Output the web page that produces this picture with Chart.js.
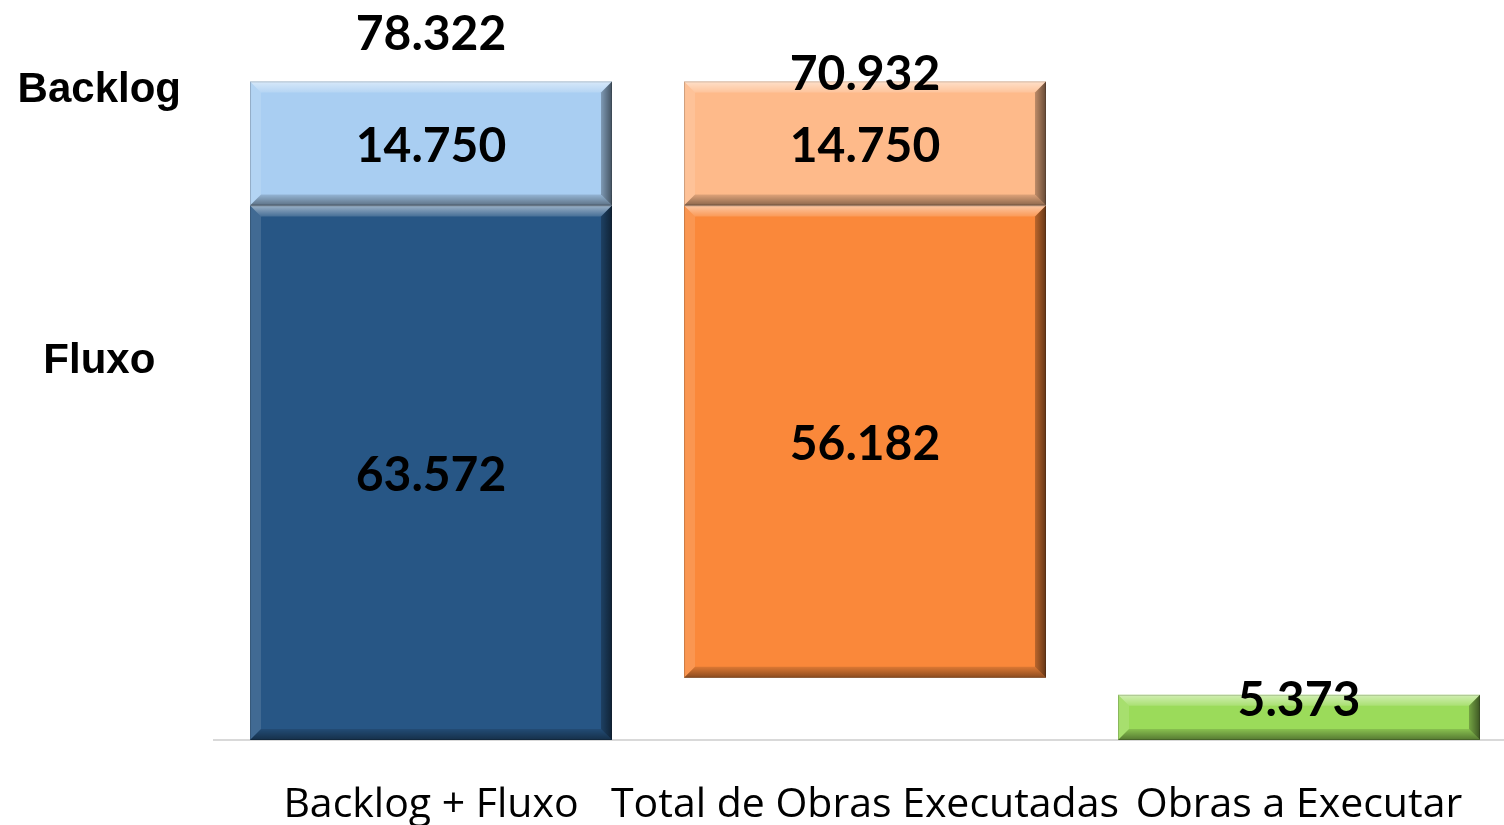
<!DOCTYPE html>
<html lang="pt">
<head>
<meta charset="utf-8">
<title>Backlog + Fluxo</title>
<script src="https://cdn.jsdelivr.net/npm/chart.js@4/dist/chart.umd.min.js"></script>
<style>
  html, body { margin: 0; padding: 0; background: #fff; overflow: hidden; }
  #wrap { width: 1516px; height: 825px; }
</style>
</head>
<body>
<div id="wrap"><canvas id="obrasChart" width="1516" height="825"></canvas></div>
<script>
// Dados
const categorias = ["Backlog + Fluxo", "Total de Obras Executadas", "Obras a Executar"]
const fluxo = [63.572, 56.182, null]
const backlog = [14.750, 14.750, null]
const aExecutar = [null, null, 5.373]
const totais = [78.322, 70.932, null]
// base invisível da barra flutuante (total entrada - total executado)
const base = [0, totais[0] - totais[1], 0]

// rótulos do eixo da esquerda, na altura de cada faixa
const rotulosEsquerda = ["Backlog", "Fluxo"]
const posRotulosEsquerda = [77.25, 45.05]

const corFluxo = ["#275685", "#fa883a", null]
const corBacklog = ["#a9cef2", "#feba8a", null]
const corExecutar = "#9bdb5a"

function fmt(v) {
  return v.toFixed(3)
}

/**
 * Desenha o efeito de bisel nas barras e os valores
 */
const bevelLabels = {
  id: "bevelLabels",
  afterDatasetsDraw(chart) {
    const ctx = chart.ctx
    const b = 11

    chart.data.datasets.forEach((ds, di) => {
      if (ds.skipLabel) return
      const meta = chart.getDatasetMeta(di)
      meta.data.forEach((el, i) => {
        const v = ds.data[i]
        if (v === null || v === 0) return
        const p = el.getProps(["x", "y", "base", "width"], true)
        const l = p.x - p.width / 2
        const r = p.x + p.width / 2
        const t = Math.min(p.y, p.base)
        const bt = Math.max(p.y, p.base)
        const bb = Math.min(b, (bt - t) / 2)

        ctx.save()
        // topo claro
        let g = ctx.createLinearGradient(0, t, 0, t + bb)
        g.addColorStop(0, "rgba(255,255,255,0.55)")
        g.addColorStop(1, "rgba(255,255,255,0.15)")
        ctx.fillStyle = g
        ctx.beginPath()
        ctx.moveTo(l, t); ctx.lineTo(r, t); ctx.lineTo(r - bb, t + bb); ctx.lineTo(l + bb, t + bb)
        ctx.closePath(); ctx.fill()
        // esquerda clara
        ctx.fillStyle = "rgba(255,255,255,0.12)"
        ctx.beginPath()
        ctx.moveTo(l, t); ctx.lineTo(l + bb, t + bb); ctx.lineTo(l + bb, bt - bb); ctx.lineTo(l, bt)
        ctx.closePath(); ctx.fill()
        // direita escura
        g = ctx.createLinearGradient(r - bb, 0, r, 0)
        g.addColorStop(0, "rgba(0,0,0,0.25)")
        g.addColorStop(1, "rgba(0,0,0,0.6)")
        ctx.fillStyle = g
        ctx.beginPath()
        ctx.moveTo(r, t); ctx.lineTo(r, bt); ctx.lineTo(r - bb, bt - bb); ctx.lineTo(r - bb, t + bb)
        ctx.closePath(); ctx.fill()
        // base escura
        g = ctx.createLinearGradient(0, bt - bb, 0, bt)
        g.addColorStop(0, "rgba(0,0,0,0.12)")
        g.addColorStop(1, "rgba(0,0,0,0.45)")
        ctx.fillStyle = g
        ctx.beginPath()
        ctx.moveTo(l, bt); ctx.lineTo(r, bt); ctx.lineTo(r - bb, bt - bb); ctx.lineTo(l + bb, bt - bb)
        ctx.closePath(); ctx.fill()
        // contorno fino
        ctx.strokeStyle = "rgba(0,0,0,0.18)"
        ctx.lineWidth = 1
        ctx.strokeRect(l + 0.5, t + 0.5, r - l - 1, bt - t - 1)
        ctx.restore()
      })
    })

    // valores
    const dy = 3
    ctx.save()
    ctx.font = "bold 48px Lato"
    ctx.fillStyle = "#000"
    ctx.textAlign = "center"
    ctx.textBaseline = "middle"
    chart.data.datasets.forEach((ds, di) => {
      if (ds.skipLabel) return
      const meta = chart.getDatasetMeta(di)
      meta.data.forEach((el, i) => {
        const v = ds.data[i]
        if (v === null) return
        const p = el.getProps(["x", "y", "base"], true)
        let y = (p.y + p.base) / 2
        if (p.base - p.y < 60) y = p.y + 3
        ctx.fillText(fmt(v), p.x, y + dy)
      })
    })
    // totais acima das barras
    const yScale = chart.scales.y
    const offsets = [-50, -10]
    const meta0 = chart.getDatasetMeta(0)
    totais.forEach((v, i) => {
      if (v === null) return
      const x = meta0.data[i].x
      ctx.fillText(fmt(v), x, yScale.getPixelForValue(totais[0]) + offsets[i] + dy)
    })
    ctx.restore()
  },
}

new Chart(document.getElementById("obrasChart"), {
  type: "bar",
  data: {
    labels: categorias,
    datasets: [
      { label: "base", data: base, backgroundColor: "rgba(0,0,0,0)", skipLabel: true },
      { label: "Fluxo", data: fluxo, backgroundColor: corFluxo },
      { label: "Backlog", data: backlog, backgroundColor: corBacklog },
      { label: "Obras a Executar", data: aExecutar, backgroundColor: corExecutar },
    ],
  },
  options: {
    responsive: false,
    animation: false,
    layout: { padding: 0 },
    datasets: {
      bar: {
        borderWidth: 0,
        categoryPercentage: 1,
        barPercentage: 0.834,
        grouped: false,
      },
    },
    plugins: {
      legend: { display: false },
      tooltip: { enabled: false },
    },
    scales: {
      x: {
        stacked: true,
        grid: { display: false },
        border: { display: true, color: "#d9d9d9", width: 2 },
        afterFit(scale) {
          scale.height = 85
          scale.paddingLeft = 0
          scale.paddingRight = 0
        },
        ticks: {
          color: "#000",
          font: { family: "Open Sans", size: 41 },
          padding: 33,
          maxRotation: 0,
          autoSkip: false,
        },
      },
      y: {
        stacked: true,
        min: 0,
        max: 88,
        grid: { display: false },
        border: { display: false },
        afterFit(scale) {
          scale.width = 214
          scale.paddingTop = 0
          scale.paddingBottom = 0
        },
        afterBuildTicks(scale) {
          scale.ticks = posRotulosEsquerda.map((v) => ({ value: v }))
        },
        ticks: {
          color: "#000",
          font: { family: "Liberation Sans", size: 42, weight: "bold" },
          crossAlign: "center",
          padding: 25,
          callback(value, index) {
            return rotulosEsquerda[index]
          },
        },
      },
    },
  },
  plugins: [bevelLabels],
})
</script>
</body>
</html>
